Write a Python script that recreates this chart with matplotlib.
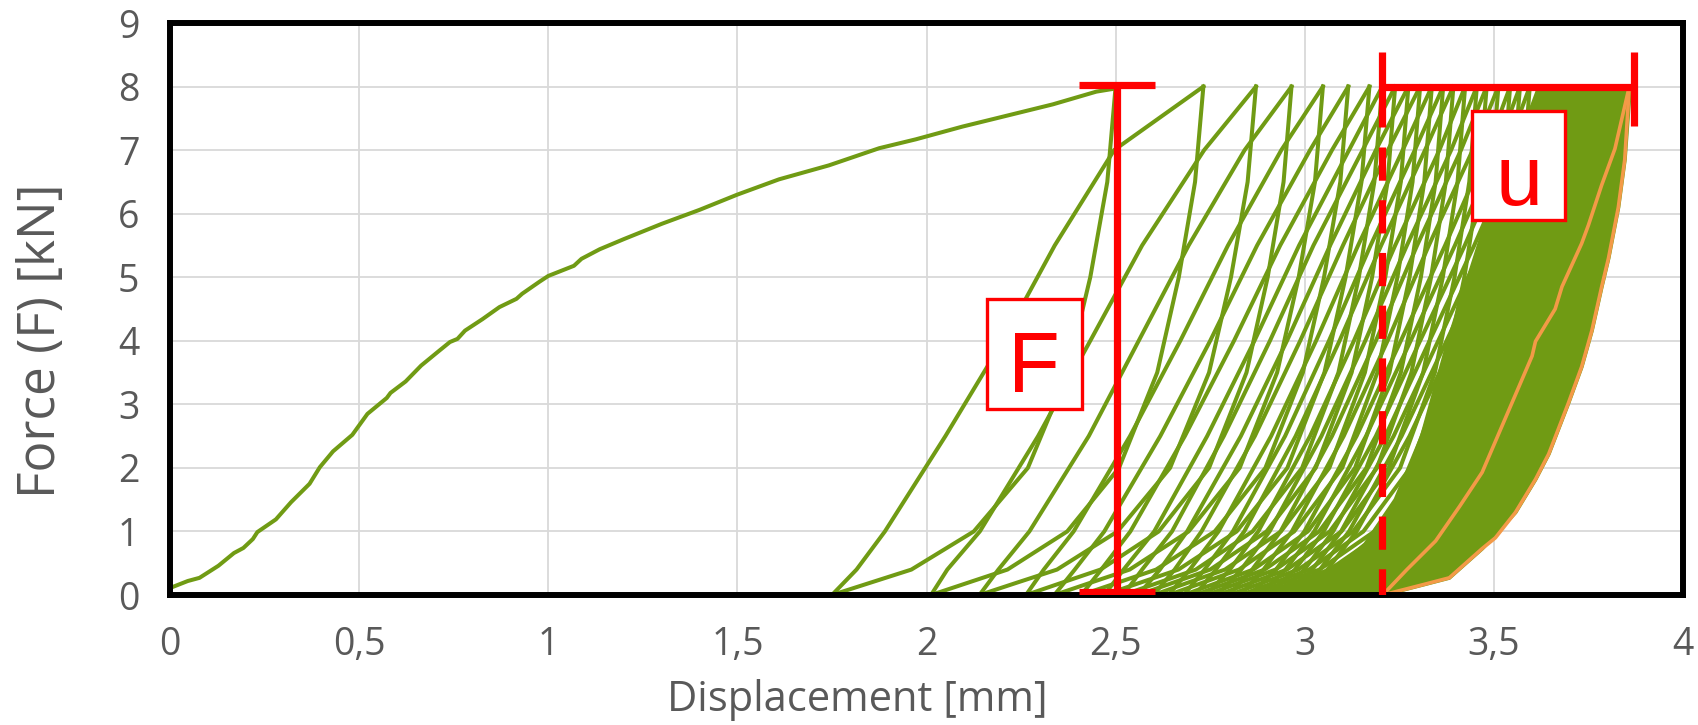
import matplotlib
matplotlib.use("Agg")
import matplotlib.pyplot as plt
from matplotlib.patches import Rectangle, Polygon
from matplotlib.ticker import MultipleLocator, FuncFormatter

GREEN = "#709B14"
ORANGE = "#F39A47"
RED = "#FF0000"
GREY = "#595959"

# first (virgin) loading curve, displacement [mm] / force [kN]
first_x = [0.0, 0.047, 0.078, 0.128, 0.169, 0.194, 0.219, 0.231, 0.28, 0.32, 0.369,
           0.396, 0.431, 0.482, 0.522, 0.573, 0.583, 0.623, 0.664, 0.709, 0.74, 0.76,
           0.78, 0.826, 0.871, 0.916, 0.931, 0.977, 1.0, 1.068, 1.088, 1.136, 1.2,
           1.3, 1.4, 1.5, 1.61, 1.742, 1.875, 1.972, 2.095, 2.184, 2.334, 2.449, 2.5]
first_f = [0.11, 0.22, 0.27, 0.46, 0.66, 0.74, 0.88, 0.99, 1.19, 1.46, 1.75,
           2.01, 2.26, 2.52, 2.85, 3.10, 3.18, 3.36, 3.61, 3.83, 3.98, 4.03,
           4.16, 4.34, 4.53, 4.66, 4.74, 4.93, 5.02, 5.18, 5.29, 5.44, 5.6,
           5.84, 6.06, 6.3, 6.54, 6.76, 7.03, 7.17, 7.37, 7.50, 7.72, 7.92, 7.97]

# unloading branches: displacement read at these force levels
unload_f = [8, 6.5, 5, 3.5, 2, 1, 0.4, 0.2, 0]
unload_x = [
    [2.500, 2.478, 2.433, 2.373, 2.268, 2.125, 1.960, 1.855, 1.750],
    [2.732, 2.710, 2.667, 2.610, 2.509, 2.372, 2.214, 2.113, 2.012],
    [2.871, 2.849, 2.805, 2.747, 2.644, 2.505, 2.345, 2.242, 2.140],
    [2.965, 2.944, 2.902, 2.846, 2.747, 2.614, 2.460, 2.361, 2.263],
    [3.048, 3.027, 2.984, 2.927, 2.828, 2.693, 2.537, 2.437, 2.338],
    [3.115, 3.094, 3.051, 2.995, 2.896, 2.762, 2.607, 2.508, 2.409],
    [3.171, 3.150, 3.108, 3.052, 2.954, 2.820, 2.666, 2.568, 2.470],
    [3.205, 3.184, 3.143, 3.089, 2.993, 2.862, 2.712, 2.616, 2.520],
    [3.239, 3.219, 3.178, 3.124, 3.029, 2.899, 2.750, 2.655, 2.560],
    [3.274, 3.254, 3.213, 3.159, 3.065, 2.937, 2.789, 2.694, 2.600],
    [3.305, 3.285, 3.245, 3.192, 3.099, 2.972, 2.826, 2.733, 2.640],
    [3.336, 3.316, 3.277, 3.224, 3.133, 3.008, 2.864, 2.772, 2.680],
    [3.366, 3.346, 3.307, 3.254, 3.163, 3.038, 2.894, 2.802, 2.710],
    [3.393, 3.373, 3.334, 3.282, 3.191, 3.066, 2.923, 2.831, 2.740],
    [3.424, 3.404, 3.365, 3.313, 3.222, 3.097, 2.953, 2.862, 2.770],
    [3.455, 3.435, 3.396, 3.344, 3.252, 3.128, 2.983, 2.892, 2.800],
    [3.481, 3.461, 3.422, 3.370, 3.279, 3.155, 3.012, 2.921, 2.830],
    [3.512, 3.492, 3.453, 3.400, 3.308, 3.184, 3.039, 2.947, 2.855],
    [3.543, 3.523, 3.483, 3.430, 3.337, 3.212, 3.066, 2.973, 2.880],
    [3.569, 3.549, 3.509, 3.456, 3.363, 3.237, 3.091, 2.998, 2.905],
    [3.595, 3.575, 3.535, 3.482, 3.389, 3.262, 3.116, 3.023, 2.930],
    [3.620, 3.600, 3.560, 3.506, 3.412, 3.285, 3.138, 3.044, 2.950],
    [3.645, 3.625, 3.584, 3.530, 3.436, 3.307, 3.159, 3.065, 2.970],
    [3.668, 3.648, 3.607, 3.553, 3.458, 3.329, 3.180, 3.085, 2.990],
]

# reloading branches
reload_f = [0, 0.4, 1, 2.5, 4, 5.5, 7, 8]
reload_x = [
    [1.750, 1.815, 1.890, 2.050, 2.202, 2.339, 2.496, 2.732],
    [2.012, 2.055, 2.141, 2.295, 2.433, 2.570, 2.734, 2.871],
    [2.140, 2.190, 2.272, 2.429, 2.561, 2.693, 2.841, 2.965],
    [2.263, 2.310, 2.389, 2.538, 2.671, 2.797, 2.938, 3.048],
    [2.338, 2.392, 2.470, 2.618, 2.750, 2.874, 3.014, 3.115],
    [2.409, 2.462, 2.539, 2.683, 2.813, 2.935, 3.072, 3.171],
    [2.470, 2.521, 2.602, 2.742, 2.867, 2.985, 3.117, 3.205],
    [2.520, 2.570, 2.649, 2.786, 2.908, 3.023, 3.153, 3.239],
    [2.560, 2.617, 2.689, 2.831, 2.953, 3.067, 3.188, 3.274],
    [2.600, 2.656, 2.727, 2.868, 2.988, 3.101, 3.220, 3.305],
    [2.640, 2.696, 2.772, 2.911, 3.030, 3.141, 3.259, 3.336],
    [2.680, 2.735, 2.810, 2.948, 3.064, 3.174, 3.291, 3.366],
    [2.710, 2.765, 2.840, 2.976, 3.092, 3.202, 3.318, 3.393],
    [2.740, 2.802, 2.877, 3.014, 3.130, 3.239, 3.356, 3.424],
    [2.770, 2.832, 2.907, 3.044, 3.160, 3.270, 3.387, 3.455],
    [2.800, 2.861, 2.936, 3.072, 3.188, 3.297, 3.413, 3.481],
    [2.830, 2.891, 2.966, 3.103, 3.219, 3.328, 3.444, 3.512],
    [2.855, 2.924, 2.999, 3.137, 3.254, 3.371, 3.481, 3.543],
    [2.880, 2.949, 3.025, 3.162, 3.280, 3.397, 3.507, 3.569],
    [2.905, 2.974, 3.050, 3.188, 3.305, 3.423, 3.533, 3.595],
    [2.930, 2.999, 3.075, 3.213, 3.330, 3.448, 3.558, 3.620],
    [2.950, 3.020, 3.096, 3.235, 3.353, 3.471, 3.582, 3.645],
    [2.970, 3.040, 3.117, 3.256, 3.375, 3.494, 3.605, 3.668],
    [2.990, 3.060, 3.137, 3.277, 3.396, 3.515, 3.627, 3.690],
]

# outline of the region where the last cycles overlap into solid green
dense_x = [3.63, 3.54, 3.46, 3.38, 3.31, 3.24, 3.16, 3.07, 2.97, 3.206,
           3.311, 3.382, 3.469, 3.557, 3.610, 3.645, 3.697, 3.732, 3.759,
           3.785, 3.803, 3.829, 3.846, 3.860]
dense_f = [8.0, 7.0, 5.5, 4.0, 2.5, 1.5, 0.8, 0.35, 0.0, 0.0,
           0.16, 0.27, 0.73, 1.30, 1.82, 2.22, 3.02, 3.59, 4.16,
           4.85, 5.30, 6.10, 6.85, 8.0]

# last cycle (orange)
last_load_x = [3.206, 3.270, 3.346, 3.410, 3.469, 3.531, 3.601, 3.610, 3.662,
               3.680, 3.732, 3.750, 3.785, 3.820, 3.858]
last_load_f = [0.0, 0.40, 0.85, 1.40, 1.93, 2.79, 3.76, 3.99, 4.50,
               4.85, 5.53, 5.82, 6.45, 7.02, 8.0]
last_unload_x = [3.858, 3.846, 3.829, 3.803, 3.785, 3.759, 3.732, 3.697, 3.645,
                 3.610, 3.557, 3.504, 3.469, 3.382, 3.311, 3.206]
last_unload_f = [8.0, 6.85, 6.10, 5.30, 4.85, 4.16, 3.59, 3.02, 2.22,
                 1.82, 1.30, 0.90, 0.73, 0.27, 0.16, 0.0]

# annotations
f_bar_x = 2.503
f_bar_range = [0.05, 8.03]
u_bar_range = [3.203, 3.870]
u_bar_f = 8.0
f_box = [2.16, 2.93, 0.25, 1.72]
u_box = [3.443, 5.90, 0.246, 1.72]

fig = plt.figure(figsize=(16.98, 7.25), dpi=100)
ax = fig.add_axes([170 / 1698, 1 - 595 / 725, 1513 / 1698, 572 / 725])

ax.plot(first_x, first_f, color=GREEN, lw=2.9, zorder=2)
for xs in unload_x:
    ax.plot(xs, unload_f, color=GREEN, lw=2.9, zorder=2)
for xs in reload_x:
    ax.plot(xs, reload_f, color=GREEN, lw=2.9, zorder=2)
ax.add_patch(Polygon(list(zip(dense_x, dense_f)), closed=True, facecolor=GREEN,
                     edgecolor=GREEN, lw=2.9, zorder=2.2))
ax.plot(last_load_x, last_load_f, color=ORANGE, lw=2.6, zorder=3)
ax.plot(last_unload_x, last_unload_f, color=ORANGE, lw=2.6, zorder=3)

# F bar
red_kw = dict(color=RED, lw=5.2, solid_capstyle="butt", zorder=6)
ax.plot([f_bar_x, f_bar_x], f_bar_range, **red_kw)
for yy in f_bar_range:
    ax.plot([f_bar_x - 0.1, f_bar_x + 0.1], [yy, yy], **red_kw)

# u bar with dashed drop line
ax.plot(u_bar_range, [u_bar_f, u_bar_f], **red_kw)
ax.plot([u_bar_range[0]] * 2, [8.55, 7.36], **red_kw)
ax.plot([u_bar_range[1]] * 2, [8.55, 7.38], **red_kw)
ax.plot([u_bar_range[0]] * 2, [7.05, -0.1], color=RED, lw=5.2, dashes=(4.6, 2.7),
        dash_capstyle="butt", zorder=6)

for (bx, by, bw, bh), label, base in [(f_box, "F", 3.2), (u_box, "u", 6.13)]:
    ax.add_patch(Rectangle((bx, by), bw, bh, facecolor="white", edgecolor=RED,
                           lw=2.4, zorder=7))
    ax.text(bx + bw / 2, base, label, color=RED, fontsize=61, ha="center",
            va="baseline", family="Liberation Sans", zorder=8)

ax.set_xlim(0, 4)
ax.set_ylim(0, 9)
ax.xaxis.set_major_locator(MultipleLocator(0.5))
ax.yaxis.set_major_locator(MultipleLocator(1))
comma = FuncFormatter(lambda v, p: f"{v:g}".replace(".", ","))
ax.xaxis.set_major_formatter(comma)
ax.yaxis.set_major_formatter(comma)
ax.grid(True, color="#D9D9D9", lw=1.3)
ax.set_axisbelow(True)
ax.tick_params(length=0, labelsize=27, labelcolor=GREY, pad=22)
for lab in ax.get_xticklabels() + ax.get_yticklabels():
    lab.set_family("Open Sans")
for sp in ax.spines.values():
    sp.set_linewidth(4.3)
    sp.set_color("black")
    sp.set_zorder(5)

ax.set_xlabel("Displacement [mm]", fontsize=30, color=GREY, family="Open Sans",
              labelpad=11)
ax.set_ylabel("Force (F) [kN]", fontsize=37, color=GREY, family="Open Sans",
              labelpad=37)
ax.xaxis.label.set_x(0.4545)
ax.yaxis.label.set_y(0.444)

fig.savefig("out.png", dpi=100)
